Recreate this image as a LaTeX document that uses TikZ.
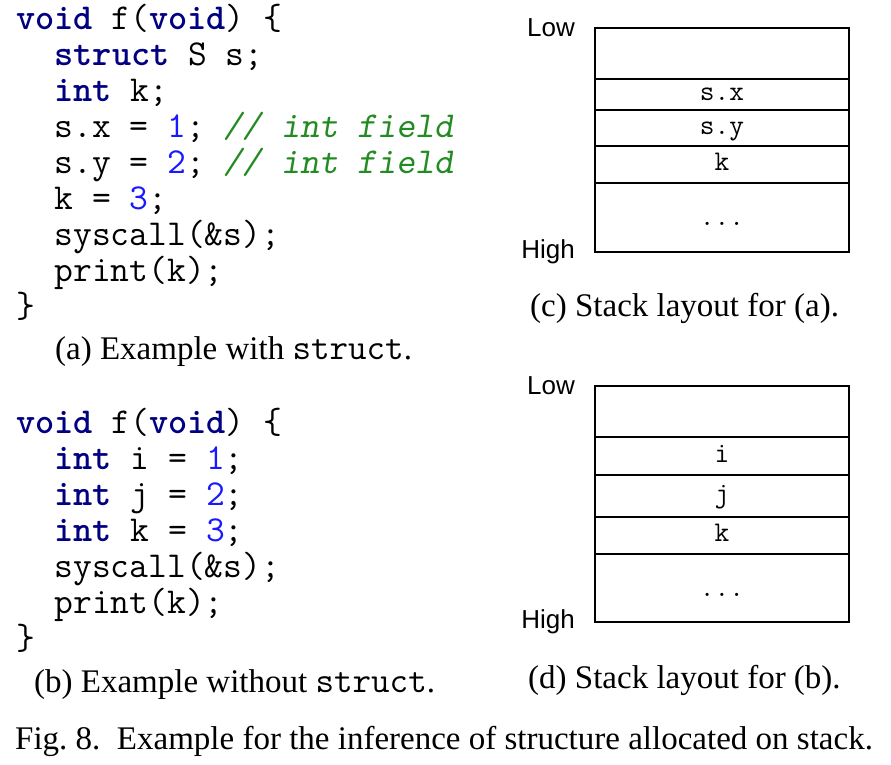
\documentclass[tikz,border=0pt]{standalone}
\usepackage{fontspec}
\setmainfont{Liberation Serif}
\newfontfamily\sansfont{Liberation Sans}
\usetikzlibrary{positioning}
\definecolor{kwblue}{RGB}{0,0,128}
\definecolor{numblue}{RGB}{25,25,255}
\definecolor{cmtgreen}{RGB}{34,139,34}
\newcommand{\kw}[1]{\textcolor{kwblue}{\textbf{#1}}}
\newcommand{\nm}[1]{\textcolor{numblue}{#1}}
\newcommand{\cmt}[1]{\textcolor{cmtgreen}{\textsl{#1}}}

\begin{document}
\begin{tikzpicture}[
    x=1pt, y=-1pt,
    codeline/.style={anchor=base west, inner sep=0pt, font=\fontsize{36.5}{40}\selectfont\ttfamily},
    capt/.style={anchor=base west, inner sep=0pt, font=\fontsize{33}{40}\selectfont},
    cell/.style={draw, line width=1.1pt, minimum width=254pt, inner sep=0pt, outer sep=0pt,
      text height=17pt, text depth=5pt, font=\fontsize{28.5}{32}\selectfont\ttfamily},
    side/.style={inner sep=0pt, font=\fontsize{26}{30}\selectfont\sansfont}
  ]
    \useasboundingbox (0,0) rectangle (891,764);
    % (a) code with struct
    \node[codeline] (la1) at (16,29)   {\kw{void} f(\kw{void}) \{};
    \node[codeline] (la2) at (54.4,65)  {\kw{struct} S s;};
    \node[codeline] (la3) at (54.4,101) {\kw{int} k;};
    \node[codeline] (la4) at (54.4,137) {s.x = \nm{1}; \cmt{// int field}};
    \node[codeline] (la5) at (54.4,173) {s.y = \nm{2}; \cmt{// int field}};
    \node[codeline] (la6) at (54.4,209) {k = \nm{3};};
    \node[codeline] (la7) at (54.4,245) {syscall(\&s);};
    \node[codeline] (la8) at (54.4,281) {print(k);};
    \node[codeline] (la9) at (16,317)   {\}};
    \node[capt] (capa) at (55,359) {(a) Example with {\fontsize{36}{40}\selectfont\ttfamily struct}.};
    % (b) code without struct
    \node[codeline] (lb1) at (16,433)   {\kw{void} f(\kw{void}) \{};
    \node[codeline] (lb2) at (54.4,469) {\kw{int} i = \nm{1};};
    \node[codeline] (lb3) at (54.4,505) {\kw{int} j = \nm{2};};
    \node[codeline] (lb4) at (54.4,541) {\kw{int} k = \nm{3};};
    \node[codeline] (lb5) at (54.4,577) {syscall(\&s);};
    \node[codeline] (lb6) at (54.4,613) {print(k);};
    \node[codeline] (lb7) at (16,649)   {\}};
    \node[capt] (capb) at (34,692) {(b) Example without {\fontsize{36}{40}\selectfont\ttfamily struct}.};
    % (c) stack for (a)
    \node[cell, minimum height=51pt, anchor=north west] (ca1) at (595,28) {};
    \node[cell, minimum height=31pt, below=0pt of ca1] (ca2) {s.x};
    \node[cell, minimum height=36pt, below=0pt of ca2] (ca3) {s.y};
    \node[cell, minimum height=37pt, below=0pt of ca3] (ca4) {k};
    \node[cell, minimum height=69pt, below=0pt of ca4, text depth=1pt] (ca5) {...};
    \node[side, left=20pt of ca1.north west] (lowa) {Low};
    \node[side, left=20pt of ca5.south west] (higha) {High};
    \node[capt] (capc) at (530,316) {(c) Stack layout for (a).};
    % (d) stack for (b)
    \node[cell, minimum height=51pt, anchor=north west] (cb1) at (595,386) {};
    \node[cell, minimum height=38pt, below=0pt of cb1] (cb2) {i};
    \node[cell, minimum height=42pt, below=0pt of cb2] (cb3) {j};
    \node[cell, minimum height=37pt, below=0pt of cb3] (cb4) {k};
    \node[cell, minimum height=68pt, below=0pt of cb4, text depth=1pt] (cb5) {...};
    \node[side, left=20pt of cb1.north west] (lowb) {Low};
    \node[side, left=20pt of cb5.south west] (highb) {High};
    \node[capt] (capd) at (528,688) {(d) Stack layout for (b).};
    % figure caption
    \node[capt] (fig) at (15,749) {Fig.~8.\enspace Example for the inference of structure allocated on stack.};
  \end{tikzpicture}
\end{document}
